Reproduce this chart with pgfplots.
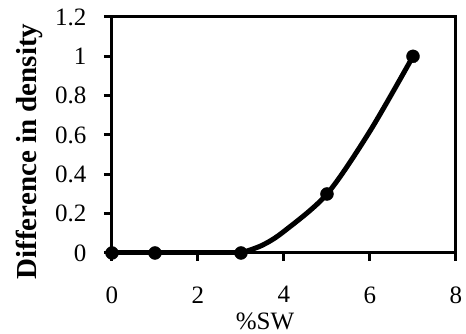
\documentclass[border=0pt]{standalone}
\usepackage{pgfplots}
\pgfplotsset{compat=1.18}
\usepackage{fontspec}
\setmainfont{Liberation Serif}
\begin{document}
\begin{tikzpicture}
\begin{axis}[
  scale only axis,
  width=344pt, height=236pt,
  xmin=0, xmax=8, ymin=0, ymax=1.2,
  xtick={0,2,4,6,8}, ytick={0,0.2,0.4,0.6,0.8,1,1.2},
  yticklabels={0,0.2,0.4,0.6,0.8,1,1.2},
  xticklabels={0,2,4,6,8},
  tick align=outside, tick pos=left,
  major tick length=8pt,
  axis line style={line width=3pt},
  every tick/.style={line width=3pt, black},
  tick label style={font=\fontsize{25}{28}\selectfont},
  yticklabel style={xshift=-14pt},
  xticklabel style={yshift=-22pt},
  xlabel={\%SW},
  ylabel={\textbf{Difference in density}},
  label style={font=\fontsize{25}{28}\selectfont},
  ylabel style={font=\fontsize{29}{32}\selectfont, at={(axis description cs:-0.24,0.43)}, anchor=center, rotate=0},
  xlabel style={at={(axis description cs:0.445,-0.288)}, anchor=center},
  clip=false,
]
\addplot[black, line width=5pt] coordinates {(0,0) (3,0)};
\addplot[black, line width=5pt, smooth] coordinates {(3,0) (3.5,0.04) (4,0.11) (5,0.3) (6,0.62) (7,1)};
\addplot[only marks, mark=*, mark size=6.5pt, black] coordinates {(0,0) (1,0) (3,0) (5,0.3) (7,1)};
\end{axis}
\pgfresetboundingbox
\useasboundingbox (-112pt,-81pt) rectangle (354pt,253pt);
\end{tikzpicture}
\end{document}
